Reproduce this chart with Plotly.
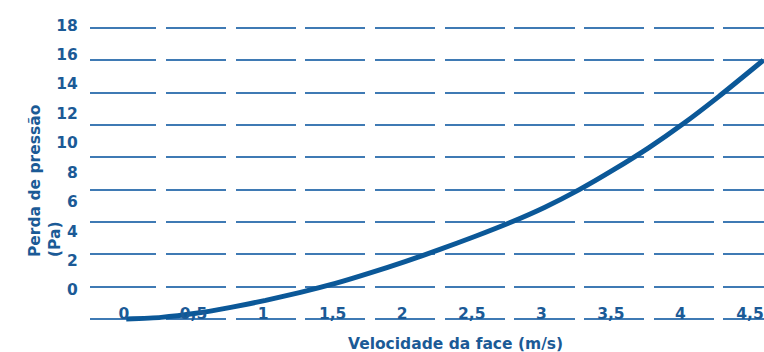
import plotly.graph_objects as go

# dados
velocidade = [0, 0.25, 0.5, 0.75, 1.0, 1.25, 1.5, 1.75, 2.0, 2.25, 2.5,
              2.75, 3.0, 3.25, 3.5, 3.75, 4.0, 4.25, 4.5, 4.57]
perda = [0, 0.1, 0.35, 0.72, 1.15, 1.65, 2.2, 2.85, 3.55, 4.3, 5.1,
         5.95, 6.9, 8.0, 9.25, 10.6, 12.1, 13.75, 15.5, 16.0]

x_ticks = [0, 0.5, 1, 1.5, 2, 2.5, 3, 3.5, 4, 4.5]
x_labels = ["0", "0,5", "1", "1,5", "2", "2,5", "3", "3,5", "4", "4,5"]
grid_vals = [0, 2, 4, 6, 8, 10, 12, 14, 16, 18]
y_labels = [0, 2, 4, 6, 8, 10, 12, 14, 16, 18]

TEXT = "#1b5a96"
GRID = "#3f7ab4"
CURVE = "#0b5898"
FONT = "DejaVu Sans, Verdana, sans-serif"

W, H = 764, 352
L, R, T, B = 90, 0, 18, 30
plot_w = W - L - R
plot_h = H - T - B


def px_x(x):
    return (x - L) / plot_w


def px_y(y):
    return (H - B - y) / plot_h


x_range = [-0.26, 4.575]
x2_range = [-0.2444, 4.6006]     # eixo só dos rótulos de x
y_range = [-0.186, 18.61]        # eixo das linhas de grade
y2_range = [-2.17, 18.48]        # eixo dos rótulos (escala deslocada)

# tracejado das linhas de grade: interrupções entre categorias
px_per_unit = plot_w / (x_range[1] - x_range[0])
gap = 9.5
cuts = []
c = x_ticks[0] + 0.25
while c < x_range[1]:
    cuts.append((c - x_range[0]) * px_per_unit)
    c += 0.5
dash = []
pos = 0.0
for cp in cuts:
    dash += [cp - gap / 2 - pos, gap]
    pos = cp + gap / 2
dash.append(plot_w - pos + 20)
dash.append(1)
griddash = ",".join(f"{d:.1f}px" for d in dash)

tickfont = dict(family=FONT, color=TEXT, size=15.5, weight="bold")

fig = go.Figure()
fig.add_trace(go.Scatter(
    x=velocidade, y=perda, mode="lines",
    line=dict(color=CURVE, width=5, shape="spline", smoothing=0.6),
    showlegend=False, hoverinfo="skip",
))
fig.add_trace(go.Scatter(x=[], y=[], xaxis="x2", yaxis="y2", showlegend=False))

fig.update_layout(
    width=W, height=H,
    margin=dict(l=L, r=R, t=T, b=B, autoexpand=False),
    paper_bgcolor="white", plot_bgcolor="white",
    font=dict(family=FONT, color=TEXT, size=15.5),
    xaxis=dict(
        range=x_range, showticklabels=False, showgrid=False, zeroline=False,
        showline=False, ticks="", automargin=False,
    ),
    xaxis2=dict(
        range=x2_range, tickvals=x_ticks, ticktext=x_labels,
        overlaying="x", anchor="free", position=px_y(302),
        showgrid=False, zeroline=False, showline=False, ticks="",
        tickfont=tickfont, automargin=False, ticklabeloverflow="allow",
    ),
    yaxis=dict(
        range=y_range, tickvals=grid_vals, showticklabels=False,
        showgrid=True, gridcolor=GRID, gridwidth=1.6, griddash=griddash,
        zeroline=False, showline=False, ticks="", automargin=False,
    ),
    yaxis2=dict(
        range=y2_range, tickvals=y_labels, overlaying="y", side="left",
        showgrid=False, zeroline=False, showline=False,
        ticks="outside", ticklen=8, tickcolor="rgba(0,0,0,0)",
        tickfont=tickfont, automargin=False,
    ),
    annotations=[
        dict(
            text="<b>Velocidade da face (m/s)</b>",
            xref="paper", yref="paper", x=px_x(455), y=px_y(344),
            xanchor="center", yanchor="middle", showarrow=False,
            font=dict(family=FONT, color=TEXT, size=15.5),
        ),
        dict(
            text="<b>Perda de pressão<br>(Pa)</b>",
            xref="paper", yref="paper", x=px_x(45), y=px_y(259),
            xanchor="center", yanchor="bottom", showarrow=False,
            textangle=-90, align="left",
            font=dict(family=FONT, color=TEXT, size=15.5),
        ),
    ],
)

# sem margem no body, para a figura ocupar a janela toda
fig.write_html(
    "out.html",
    config={"displayModeBar": False},
    post_script="document.body.style.margin='0';document.body.style.overflow='hidden';",
)
